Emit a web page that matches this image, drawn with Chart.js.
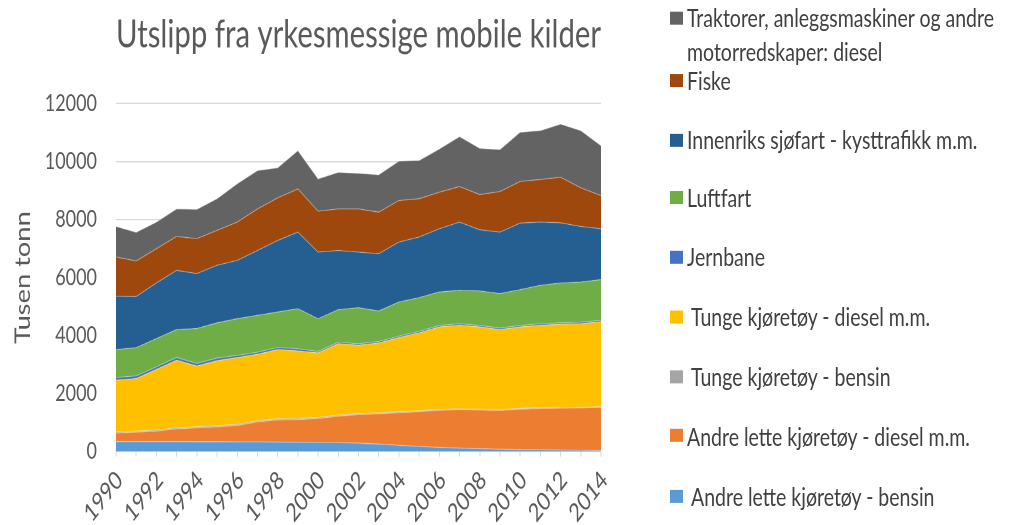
<!DOCTYPE html>
<html>
<head>
<meta charset="utf-8">
<script src="https://cdn.jsdelivr.net/npm/chart.js@4.4.1/dist/chart.umd.min.js"></script>
<style>
  html, body { margin: 0; padding: 0; background: #fff; }
  body { width: 1015px; height: 525px; overflow: hidden; position: relative; }
  /* the source picture is stretched vertically, so the whole drawing is too */
  #wrap { position: absolute; left: 0; top: 0; width: 1015px; height: 404px;
          transform: scaleY(1.2995); transform-origin: 0 0; }
  #chartBox { position: absolute; left: 0; top: 0; width: 640px; height: 404px; }
  #legend { position: absolute; left: 0; top: 0; font-family: Lato, sans-serif;
            font-size: 19.5px; color: #404040; }
  .item { position: absolute; left: 670px; white-space: nowrap; }
  .sw { position: absolute; left: 0; top: 7.9px; width: 13px; height: 10px; }
  .txt { position: absolute; left: 17px; top: 0; line-height: 25.8px; }
</style>
</head>
<body>
<div id="wrap">
  <div id="chartBox"><canvas id="chart"></canvas></div>
  <div id="legend"></div>
</div>
<script>
// Aar
const years = [1990, 1991, 1992, 1993, 1994, 1995, 1996, 1997, 1998, 1999, 2000, 2001, 2002,
               2003, 2004, 2005, 2006, 2007, 2008, 2009, 2010, 2011, 2012, 2013, 2014];

// Utslipp (tusen tonn), fra nederst til øverst i stabelen
const andreLetteBensin = [340, 340, 340, 340, 335, 335, 330, 330, 325, 320, 315, 305, 290,
                          255, 215, 175, 140, 115, 95, 80, 70, 60, 50, 40, 35];
const andreLetteDiesel = [300, 325, 360, 440, 480, 515, 565, 690, 765, 780, 820, 915, 980,
                          1045, 1120, 1200, 1280, 1330, 1335, 1340, 1385, 1425, 1445, 1465, 1485];
const tungeBensin = [40, 40, 40, 40, 40, 40, 40, 40, 40, 40, 40, 35, 35,
                     35, 35, 30, 30, 30, 30, 30, 30, 25, 25, 25, 25];
const tungeDiesel = [1780, 1810, 2090, 2330, 2090, 2240, 2305, 2295, 2385, 2330, 2225, 2465, 2360,
                     2410, 2560, 2685, 2845, 2880, 2835, 2755, 2810, 2845, 2865, 2880, 2925];
const jernbane = [90, 90, 90, 90, 90, 90, 70, 70, 70, 70, 50, 50, 50,
                  50, 50, 50, 50, 50, 50, 50, 50, 50, 50, 50, 50];
const luftfart = [965, 975, 975, 965, 1205, 1215, 1270, 1270, 1225, 1385, 1130, 1120, 1245,
                  1050, 1175, 1165, 1155, 1155, 1190, 1190, 1235, 1325, 1375, 1385, 1405];
const innenriksSjofart = [1835, 1765, 1915, 2040, 1895, 1985, 2010, 2235, 2465, 2640, 2295, 2040, 1915,
                          1975, 2065, 2090, 2180, 2350, 2110, 2120, 2295, 2180, 2075, 1915, 1755];
const fiske = [1355, 1225, 1180, 1170, 1205, 1205, 1320, 1435, 1470, 1490, 1410, 1435, 1490,
               1435, 1435, 1320, 1260, 1225, 1215, 1400, 1435, 1470, 1570, 1330, 1145];
const traktorer = [1055, 985, 920, 950, 1010, 1090, 1320, 1320, 1035, 1320, 1115, 1260, 1225,
                   1285, 1355, 1320, 1490, 1720, 1595, 1445, 1700, 1685, 1835, 1975, 1720];

const seriesLabels = [
  "Andre lette kjøretøy - bensin",
  "Andre lette kjøretøy - diesel m.m.",
  "Tunge kjøretøy - bensin",
  "Tunge kjøretøy - diesel m.m.",
  "Jernbane",
  "Luftfart",
  "Innenriks sjøfart - kysttrafikk m.m.",
  "Fiske",
  ["Traktorer, anleggsmaskiner og andre", "motorredskaper: diesel"],
];
const seriesData = [andreLetteBensin, andreLetteDiesel, tungeBensin, tungeDiesel, jernbane,
                    luftfart, innenriksSjofart, fiske, traktorer];
const seriesColors = ["#5B9BD5", "#ED7D31", "#A5A5A5", "#FFC000", "#4472C4",
                      "#70AD47", "#255E91", "#9E480E", "#636363"];
const yTicks = [0, 2000, 4000, 6000, 8000, 10000, 12000];

// plassering av legenden (midten av hver rad, ovenfra og ned) + innrykk av teksten
const legendRowCenters = [14.2, 61.6, 107.7, 151.6, 197.8, 243.9, 290.1, 335.5, 381.7];
const legendIndent = [0, 0, 0, 0, 0, 4, 4, 0, 4];

const FONT = "Lato, sans-serif";
const TXT = "#595959";

// ===== Legend (HTML) =====
const legendEl = document.getElementById("legend");
for (let r = 0; r < seriesLabels.length; r++) {
  const i = seriesLabels.length - 1 - r;
  const lab = seriesLabels[i];
  const item = document.createElement("div");
  item.className = "item";
  item.style.top = (legendRowCenters[r] - 12.9) + "px";
  const sw = document.createElement("div");
  sw.className = "sw";
  sw.style.background = seriesColors[i];
  const txt = document.createElement("div");
  txt.className = "txt";
  txt.style.left = (17 + legendIndent[r]) + "px";
  const lines = Array.isArray(lab) ? lab : [lab];
  lines.forEach((l, k) => {
    if (k > 0) txt.appendChild(document.createElement("br"));
    txt.appendChild(document.createTextNode(l));
  });
  item.appendChild(sw);
  item.appendChild(txt);
  legendEl.appendChild(item);
}

// ===== Chart =====
const datasets = seriesData.map((d, i) => ({
  label: Array.isArray(seriesLabels[i]) ? seriesLabels[i].join(" ") : seriesLabels[i],
  data: d,
  backgroundColor: seriesColors[i],
  borderColor: "rgba(255,255,255,0.35)",
  borderWidth: 0.8,
  fill: i === 0 ? "origin" : "-1",
  pointRadius: 0,
  pointHoverRadius: 0,
  tension: 0,
}));

const ctx = document.getElementById("chart").getContext("2d");
new Chart(ctx, {
  type: "line",
  data: { labels: years, datasets },
  options: {
    responsive: true,
    maintainAspectRatio: false,
    devicePixelRatio: 2,
    animation: false,
    layout: { padding: { left: 0, right: 39, top: 0, bottom: 0 } },
    plugins: {
      legend: { display: false },
      tooltip: { enabled: false },
      title: {
        display: true,
        fullSize: false,
        text: "Utslipp fra yrkesmessige mobile kilder",
        color: TXT,
        font: { family: FONT, size: 29.6, weight: "normal" },
        padding: { top: 9.4, bottom: 34.7 },
      },
    },
    scales: {
      x: {
        afterFit: (s) => { s.height = 56.6; },
        grid: { display: true, drawOnChartArea: false, drawTicks: true, tickLength: 4, color: "#d9d9d9" },
        border: { display: true, color: "#d9d9d9" },
        ticks: {
          autoSkip: false,
          minRotation: 45,
          maxRotation: 45,
          padding: 6.5,
          labelOffset: 3.4,
          color: TXT,
          font: { family: FONT, size: 19.5 },
          callback: function (v, i) { return years[i] % 2 === 0 ? String(years[i]) : ""; },
        },
      },
      y: {
        stacked: true,
        min: 0,
        max: 12000,
        afterFit: (s) => { s.width = 116; },
        afterBuildTicks: (s) => { s.ticks = yTicks.map((v) => ({ value: v })); },
        grid: { color: "#d9d9d9", drawTicks: false },
        border: { display: false },
        ticks: {
          padding: 19,
          color: TXT,
          font: { family: FONT, size: 18 },
          callback: (v) => String(v),
        },
        title: {
          display: true,
          text: "Tusen tonn",
          color: TXT,
          font: { family: FONT, size: 21 },
          padding: { top: 10.4, bottom: 0 },
        },
      },
    },
  },
});
</script>
</body>
</html>
